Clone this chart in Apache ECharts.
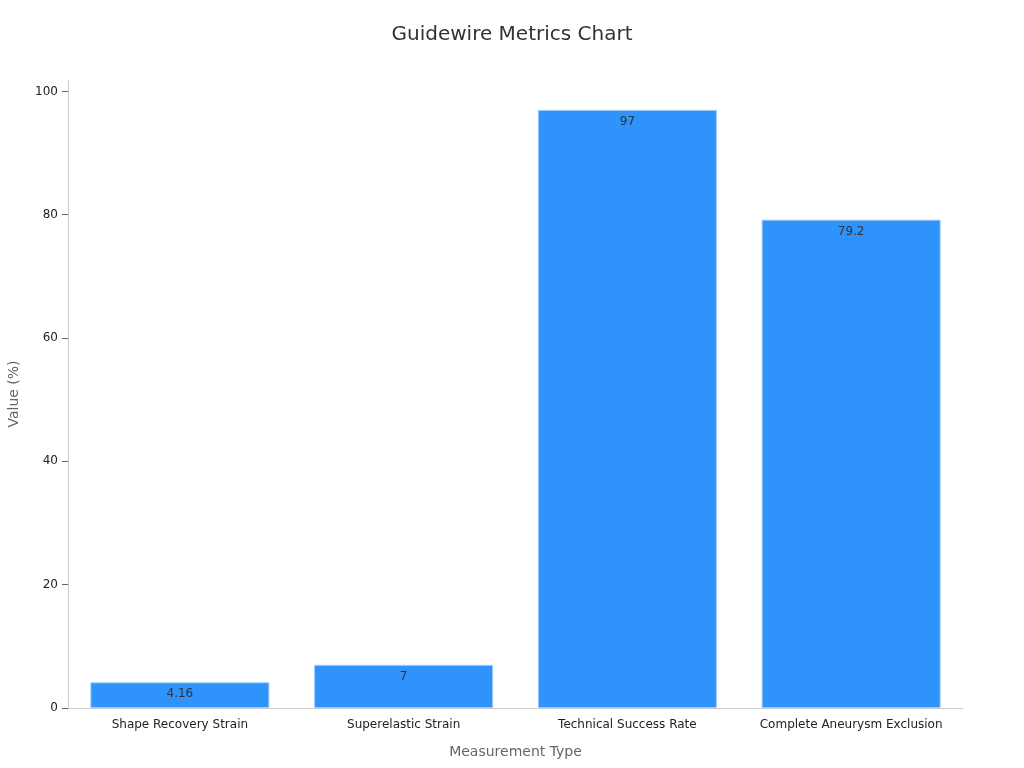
<!DOCTYPE html>
<html>
<head>
<meta charset="utf-8" />
<title>Guidewire Metrics Chart</title>
<script src="https://cdn.jsdelivr.net/npm/echarts@6/dist/echarts.min.js"></script>
<style>
  html, body { margin: 0; padding: 0; background: #fff; }
  #main { width: 1024px; height: 768px; }
</style>
</head>
<body>
<div id="main"></div>
<script type="text/javascript">
/* data */
var categories = ['Shape Recovery Strain', 'Superelastic Strain', 'Technical Success Rate', 'Complete Aneurysm Exclusion'];
var values = [4.16, 7, 97, 79.2];
var yTicks = [0, 20, 40, 60, 80, 100];

var chart = echarts.init(document.getElementById('main'));
var font = 'DejaVu Sans';

var option = {
    backgroundColor: '#fff',
    textStyle: { fontFamily: font },
    title: {
        text: 'Guidewire Metrics Chart',
        left: 'center',
        top: 20,
        textStyle: { fontFamily: font, fontSize: 20, fontWeight: 'normal', color: '#333' }
    },
    grid: { left: 68, right: 61, top: 80, bottom: 60, containLabel: false, outerBoundsMode: 'none' },
    xAxis: {
        type: 'category',
        data: categories,
        name: 'Measurement Type',
        nameLocation: 'middle',
        nameGap: 37,
        nameTextStyle: { fontSize: 14, color: '#666' },
        axisLine: { lineStyle: { color: '#ccc' } },
        axisTick: { alignWithLabel: true, lineStyle: { color: '#666' } },
        axisLabel: { interval: 0, fontSize: 12, color: '#222', margin: 11 }
    },
    yAxis: {
        type: 'value',
        min: yTicks[0],
        max: 97 * 1.05,
        interval: 20,
        name: 'Value (%)',
        nameLocation: 'middle',
        nameGap: 47,
        nameTextStyle: { fontSize: 14, color: '#666' },
        axisLine: { show: true, lineStyle: { color: '#ccc' } },
        axisTick: { show: true, length: 6, customValues: yTicks, lineStyle: { color: '#666' } },
        splitLine: { show: false },
        axisLabel: { fontSize: 12, color: '#222', margin: 10, customValues: yTicks }
    },
    series: [{
        type: 'bar',
        data: values,
        barCategoryGap: '20%',
        itemStyle: { color: '#2E93FA', borderColor: '#9ccbfb', borderWidth: 1 },
        label: {
            show: true,
            position: 'insideTop',
            distance: 6,
            fontSize: 12,
            color: '#333'
        }
    }]
};

chart.setOption(option);
window.onresize = chart.resize;
</script>
</body>
</html>
